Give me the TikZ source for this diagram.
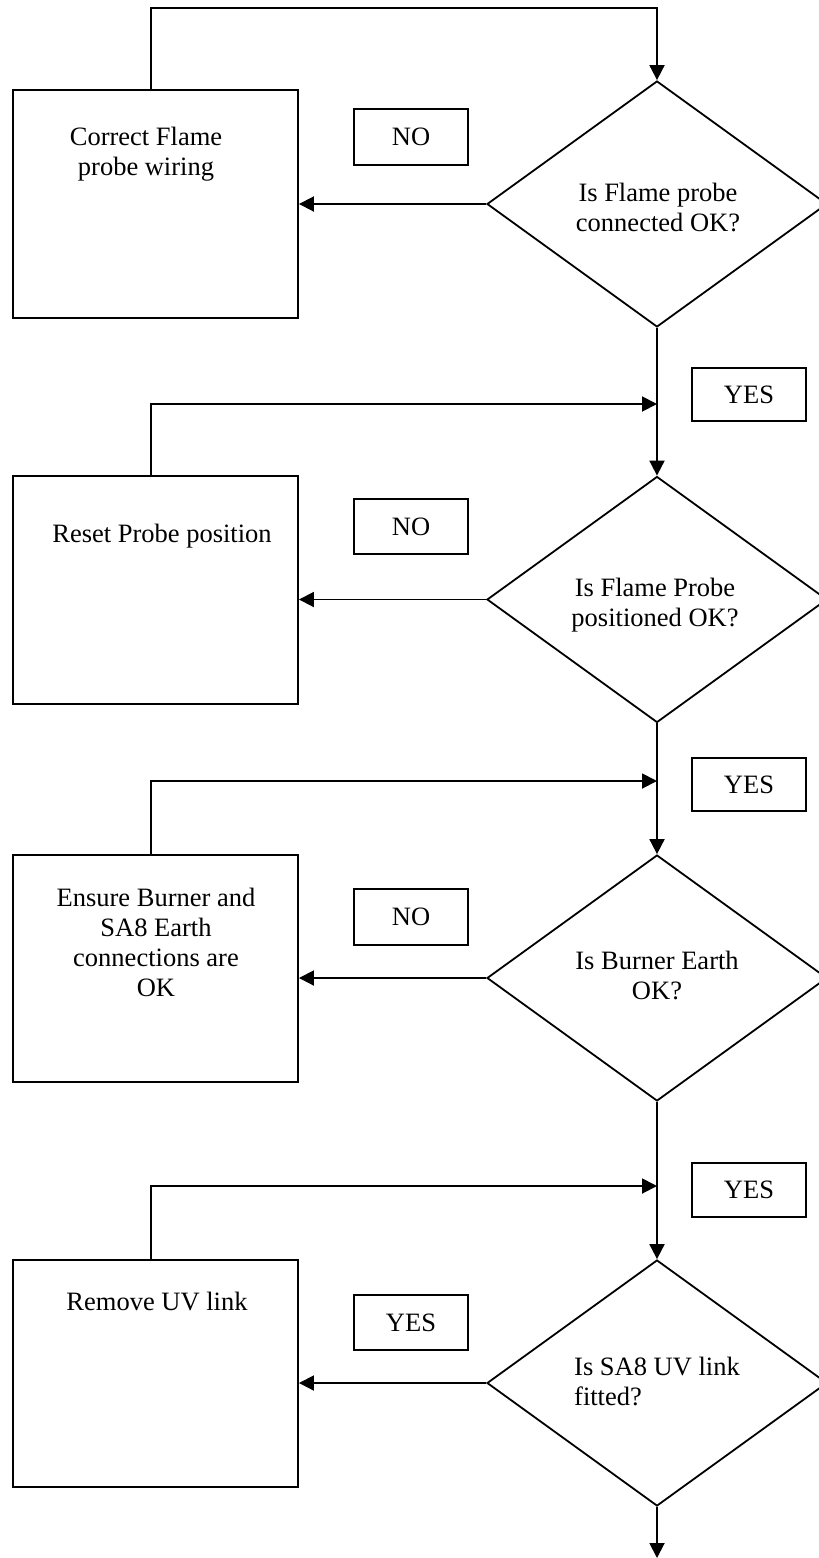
\documentclass[tikz,border=0pt]{standalone}
\usepackage{fontspec}
\setmainfont{Liberation Serif}
\usetikzlibrary{arrows.meta,shapes.geometric}
\begin{document}
\begin{tikzpicture}[x=1pt,y=-1pt,
  line width=1.9pt,
  every node/.style={font=\fontsize{26.5}{30}\selectfont},
  procbox/.style={draw, line width=1.9pt, minimum width=285pt, inner sep=0pt},
  decision/.style={draw, shape=diamond, line width=1.8pt, minimum width=340pt, minimum height=246pt, inner sep=0pt},
  answer/.style={draw, line width=1.9pt, minimum width=114pt, inner sep=0pt},
  label/.style={align=center, inner sep=0pt},
  arr/.style={-{Triangle[length=15pt,width=15pt]}}
]
\useasboundingbox (0,0) rectangle (819,1558);

% process boxes
\node[procbox, minimum height=228pt] (b1) at (155.5,204) {};
\node[procbox, minimum height=228pt] (b2) at (155.5,590) {};
\node[procbox, minimum height=227pt] (b3) at (155.5,968.5) {};
\node[procbox, minimum height=227pt] (b4) at (155.5,1373.5) {};

\node[label] (t1) at (146,154) {Correct Flame\\probe wiring};
\node[label] (t2) at (162,536) {Reset Probe position};
\node[label] (t3) at (156,942) {Ensure Burner and\\SA8 Earth\\connections are\\OK};
\node[label] (t4) at (157,1301) {Remove UV link};

% decisions
\node[decision] (d1) at (657,204) {};
\node[decision] (d2) at (657,599.5) {};
\node[decision] (d3) at (657,978) {};
\node[decision] (d4) at (657,1383) {};

\node[label] (q1) at (658,207) {Is Flame probe\\connected OK?};
\node[label] (q2) at (655,605) {Is Flame Probe\\positioned OK?};
\node[label] (q3) at (657,975) {Is Burner Earth\\OK?};
\node[label, align=left] (q4) at (657,1381) {Is SA8 UV link\\fitted?};

% answer labels
\node[answer, minimum height=56pt] (n1) at (411,137) {NO};
\node[answer, minimum height=55pt] (n2) at (411,526.5) {NO};
\node[answer, minimum height=56pt] (n3) at (411,917) {NO};
\node[answer, minimum height=55pt] (n4) at (411,1322.5) {YES};

\node[answer, minimum height=53pt] (y1) at (749,394.5) {YES};
\node[answer, minimum height=53pt] (y2) at (749,784.5) {YES};
\node[answer, minimum height=54pt] (y3) at (749,1190) {YES};

% loop coordinates
\coordinate (l1) at (151,8);
\coordinate (l2) at (151,404);
\coordinate (l3) at (151,781);
\coordinate (l4) at (151,1186);
\coordinate (j2) at (657,404);
\coordinate (j3) at (657,781);
\coordinate (j4) at (657,1186);
\coordinate (e) at (657,1558);

% loops back
\draw[arr] (b1.north -| l1) -- (l1) -| (d1.north);
\draw[arr] (b2.north -| l2) -- (l2) -- (j2);
\draw[arr] (b3.north -| l3) -- (l3) -- (j3);
\draw[arr] (b4.north -| l4) -- (l4) -- (j4);

% main flow
\draw[arr] (d1.south) -- (d2.north);
\draw[arr] (d2.south) -- (d3.north);
\draw[arr] (d3.south) -- (d4.north);
\draw[arr] (d4.south) -- (e);

% side branches
\draw[arr] (d1.west) -- (d1.west -| b1.east);
\draw[arr] (d2.west) -- (d2.west -| b2.east);
\draw[arr] (d3.west) -- (d3.west -| b3.east);
\draw[arr] (d4.west) -- (d4.west -| b4.east);
\end{tikzpicture}
\end{document}
